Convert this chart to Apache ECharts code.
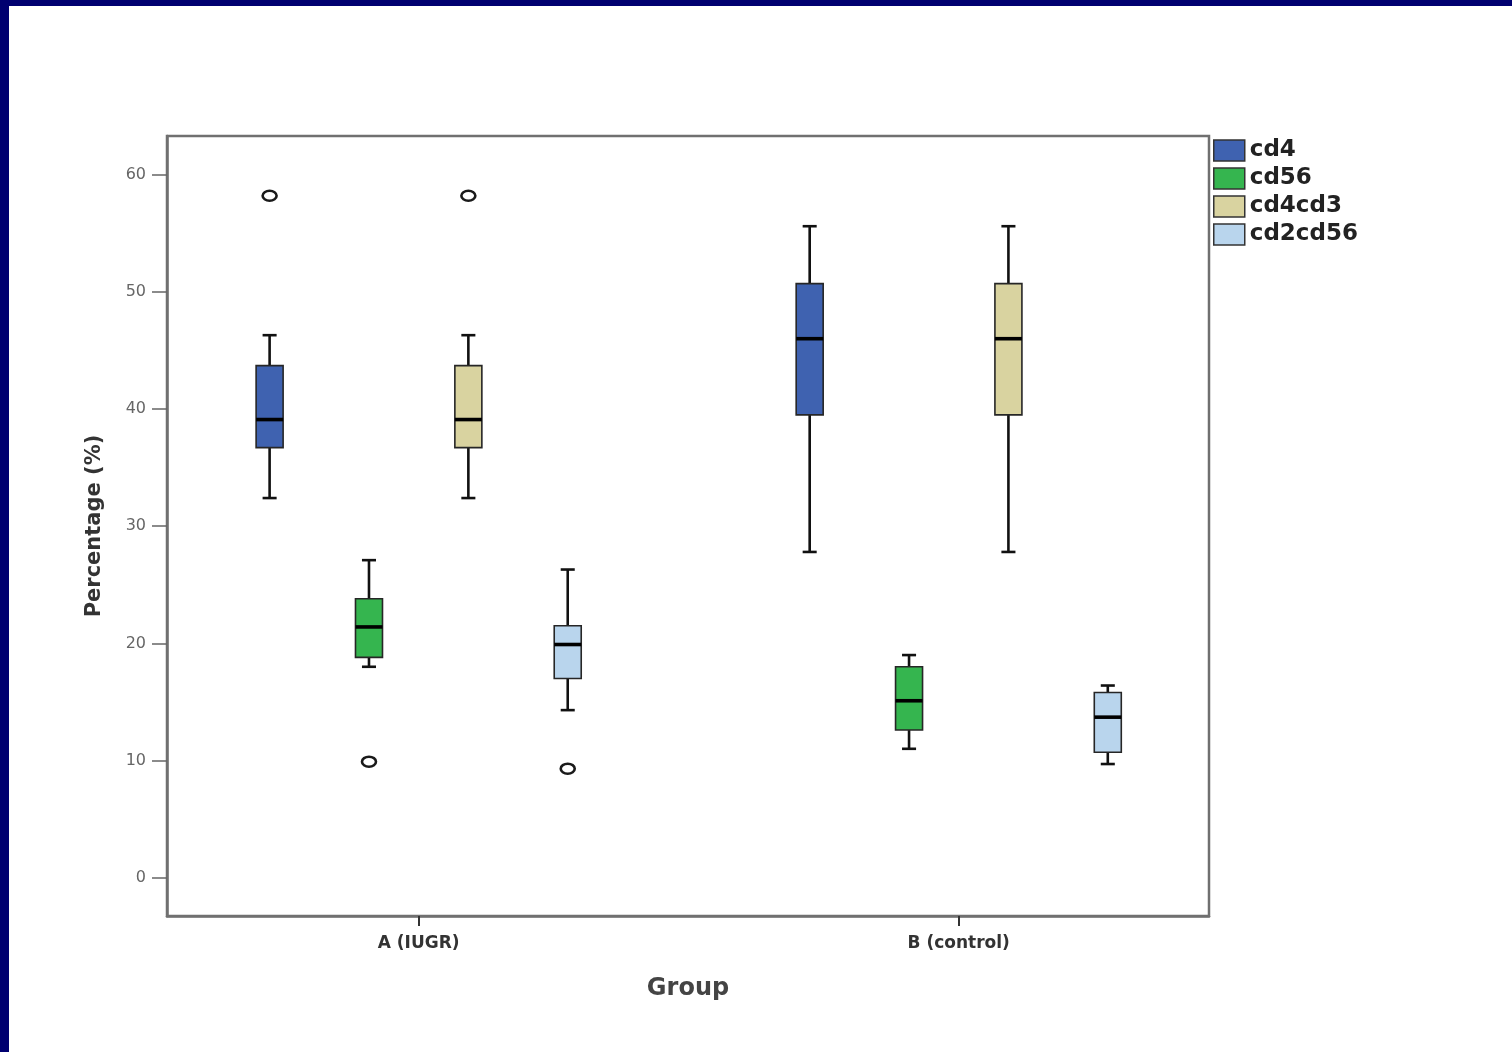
<!DOCTYPE html>
<html>
<head>
<meta charset="utf-8">
<script src="https://cdn.jsdelivr.net/npm/echarts@6/dist/echarts.min.js"></script>
<style>
  html, body { margin: 0; padding: 0; background: #ffffff; }
  #chart { width: 1512px; height: 1052px; }
</style>
</head>
<body>
<div id="chart"></div>
<script>
// ---------------- DATA ----------------
const groups = ['A (IUGR)', 'B (control)'];
const seriesNames = ['cd4', 'cd56', 'cd4cd3', 'cd2cd56'];
// each row: [groupIndex, min, Q1, median, Q3, max]
const cd4     = [[0, 32.4, 36.7, 39.1, 43.7, 46.3], [1, 27.8, 39.5, 46.0, 50.7, 55.6]];
const cd56    = [[0, 18.0, 18.8, 21.4, 23.8, 27.1], [1, 11.0, 12.6, 15.1, 18.0, 19.0]];
const cd4cd3  = [[0, 32.4, 36.7, 39.1, 43.7, 46.3], [1, 27.8, 39.5, 46.0, 50.7, 55.6]];
const cd2cd56 = [[0, 14.3, 17.0, 19.9, 21.5, 26.3], [1, 9.7, 10.7, 13.7, 15.8, 16.4]];
// outliers: [groupIndex, value]
const cd4Outliers     = [[0, 58.2]];
const cd56Outliers    = [[0, 9.9]];
const cd4cd3Outliers  = [[0, 58.2]];
const cd2cd56Outliers = [[0, 9.3]];
const yTicks = [0, 10, 20, 30, 40, 50, 60];
const xTicks = [0, 1];

// ---------------- LAYOUT / STYLE ----------------
const Y_MIN = -3.27, Y_MAX = 63.3;
const X_MIN = -0.466, X_MAX = 1.4634;
const SLOT_STEP = 0.184;     // spacing between boxes inside a group (axis units)
const BOX_W = 0.05;          // box width (axis units)
const CAP_W = 0.026;         // whisker cap width (axis units)
const COLORS = ['#3f62b0', '#35b54f', '#d9d3a0', '#b9d5ed'];
const FONT = 'DejaVu Sans';

const boxData = [cd4, cd56, cd4cd3, cd2cd56];
const outlierData = [cd4Outliers, cd56Outliers, cd4cd3Outliers, cd2cd56Outliers];

function slotOffset(slot) { return (slot - (seriesNames.length - 1) / 2) * SLOT_STEP; }

function boxRenderer(slot) {
  return function (params, api) {
    const g = api.value(0);
    const unit = api.size([1, 0])[0];
    const cx = api.coord([g, 0])[0] + slotOffset(slot) * unit;
    const y = (i) => api.coord([g, api.value(i)])[1];
    const yMin = y(1), yQ1 = y(2), yMed = y(3), yQ3 = y(4), yMax = y(5);
    const hw = BOX_W * unit / 2, cw = CAP_W * unit / 2;
    const ls = { stroke: '#111', lineWidth: 2.6 };
    return {
      type: 'group',
      children: [
        { type: 'line', shape: { x1: cx, y1: yMax, x2: cx, y2: yQ3 }, style: ls },
        { type: 'line', shape: { x1: cx, y1: yQ1, x2: cx, y2: yMin }, style: ls },
        { type: 'line', shape: { x1: cx - cw, y1: yMax, x2: cx + cw, y2: yMax }, style: ls },
        { type: 'line', shape: { x1: cx - cw, y1: yMin, x2: cx + cw, y2: yMin }, style: ls },
        { type: 'rect', shape: { x: cx - hw, y: yQ3, width: 2 * hw, height: yQ1 - yQ3 },
          style: { fill: api.visual('color'), stroke: '#262626', lineWidth: 1.6 } },
        { type: 'line', shape: { x1: cx - hw, y1: yMed, x2: cx + hw, y2: yMed },
          style: { stroke: '#000', lineWidth: 3.6 } }
      ]
    };
  };
}

function outlierRenderer(slot) {
  return function (params, api) {
    const g = api.value(0);
    const unit = api.size([1, 0])[0];
    const p = api.coord([g, api.value(1)]);
    return {
      type: 'ellipse',
      shape: { cx: p[0] + slotOffset(slot) * unit, cy: p[1], rx: 7, ry: 5 },
      style: { fill: '#fff', stroke: '#1a1a1a', lineWidth: 2.6 }
    };
  };
}

const series = [];
seriesNames.forEach((name, i) => {
  series.push({
    type: 'custom', name: name, data: boxData[i],
    encode: { x: 0, y: [1, 2, 3, 4, 5] },
    itemStyle: { color: COLORS[i] },
    renderItem: boxRenderer(i), z: 2
  });
});
seriesNames.forEach((name, i) => {
  series.push({
    type: 'custom', name: name + ' outliers', data: outlierData[i],
    encode: { x: 0, y: 1 },
    itemStyle: { color: COLORS[i] },
    renderItem: outlierRenderer(i), z: 3
  });
});

const chart = echarts.init(document.getElementById('chart'), null, { renderer: 'canvas' });
chart.setOption({
  animation: false,
  backgroundColor: '#ffffff',
  textStyle: { fontFamily: FONT },
  graphic: [
    { type: 'rect', left: 0, top: 0, shape: { width: 1512, height: 6 }, style: { fill: '#000070' }, z: 100 },
    { type: 'rect', left: 0, top: 0, shape: { width: 9, height: 1052 }, style: { fill: '#000070' }, z: 100 }
  ],
  grid: {
    left: 167, right: 303, top: 136, bottom: 136,
    show: true, borderColor: '#707070', borderWidth: 2.5, backgroundColor: 'transparent'
  },
  legend: {
    data: seriesNames,
    orient: 'vertical',
    left: 1213, top: 139, padding: 0,
    itemWidth: 31, itemHeight: 21, itemGap: 5,
    icon: 'rect',
    selectedMode: false,
    itemStyle: { borderColor: '#333', borderWidth: 1.5 },
    textStyle: { fontFamily: FONT, fontSize: 23, fontWeight: 'bold', color: '#222', lineHeight: 23 }
  },
  xAxis: {
    type: 'value', min: X_MIN, max: X_MAX,
    name: 'Group', nameLocation: 'middle', nameGap: 61,
    nameTextStyle: { fontFamily: FONT, fontSize: 24, fontWeight: 'bold', color: '#444' },
    axisLine: { show: true, onZero: false, lineStyle: { color: '#707070', width: 2.5 } },
    axisTick: { show: true, customValues: xTicks, length: 10, lineStyle: { color: '#333', width: 2 } },
    axisLabel: { customValues: xTicks, formatter: (v) => groups[Math.round(v)], margin: 19,
                 fontFamily: FONT, fontSize: 17, fontWeight: 'bold', color: '#333' },
    splitLine: { show: false }
  },
  yAxis: {
    type: 'value', min: Y_MIN, max: Y_MAX,
    name: 'Percentage (%)', nameLocation: 'middle', nameGap: 62,
    nameTextStyle: { fontFamily: FONT, fontSize: 21, fontWeight: 'bold', color: '#333' },
    axisLine: { show: true, onZero: false, lineStyle: { color: '#707070', width: 2.5 } },
    axisTick: { show: true, customValues: yTicks, length: 15, lineStyle: { color: '#666', width: 1.5 } },
    axisLabel: { customValues: yTicks, margin: 21, fontFamily: FONT, fontSize: 16, color: '#666' },
    splitLine: { show: false }
  },
  series: series
});
</script>
</body>
</html>
